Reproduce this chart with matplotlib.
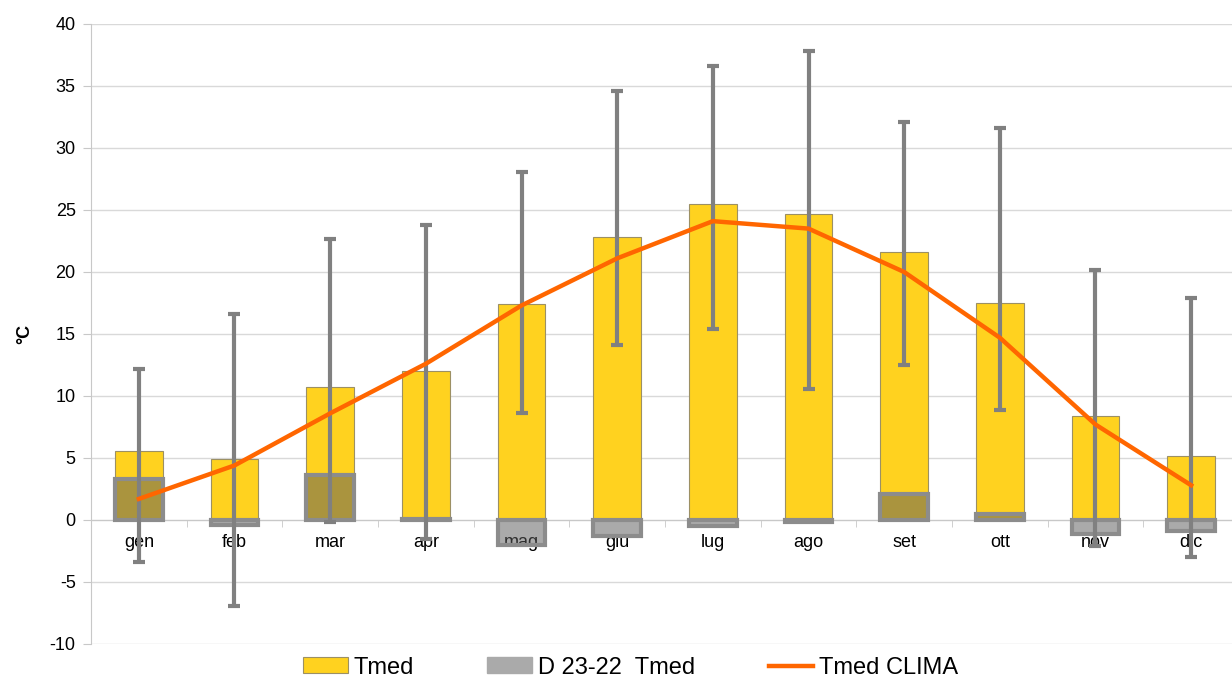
import matplotlib.pyplot as plt
import numpy as np
from matplotlib.patches import Patch
from matplotlib.lines import Line2D

# Monthly data
mesi = ['gen', 'feb', 'mar', 'apr', 'mag', 'giu', 'lug', 'ago', 'set', 'ott', 'nov', 'dic']
tmed = [5.6, 4.9, 10.7, 12.0, 17.4, 22.8, 25.5, 24.7, 21.6, 17.5, 8.4, 5.2]
delta_23_22 = [3.3, -0.4, 3.6, 0.1, -2.0, -1.3, -0.5, -0.2, 2.1, 0.5, -1.1, -0.9]
tmin = [-3.4, -6.9, -0.2, -1.5, 8.6, 14.1, 15.4, 10.6, 12.5, 8.9, -2.1, -3.0]
tmax = [12.2, 16.6, 22.7, 23.8, 28.1, 34.6, 36.6, 37.8, 32.1, 31.6, 20.2, 17.9]
tmed_clima = [1.7, 4.4, 8.6, 12.6, 17.3, 21.1, 24.1, 23.5, 20.0, 14.7, 7.7, 2.8]

plt.rcParams['font.family'] = ['Liberation Sans', 'DejaVu Sans']
plt.rcParams['axes.unicode_minus'] = False

fig = plt.figure(figsize=(12.32, 6.84), dpi=100)
ax = fig.add_axes([91 / 1232, 40 / 684, 1148 / 1232, 620 / 684])

x = np.arange(len(mesi))
tmed_arr = np.array(tmed)

ax.bar(x, tmed, width=0.5, color='#ffd21f', edgecolor='#9c9064', linewidth=0.8, zorder=2)
ax.bar(x, delta_23_22, width=0.5, color=(0.36, 0.36, 0.36, 0.52),
       edgecolor='#8c8c8c', linewidth=3, zorder=3)

# min / max range drawn as error bars around Tmed
yerr = [tmed_arr - np.array(tmin), np.array(tmax) - tmed_arr]
ax.errorbar(x, tmed, yerr=yerr, fmt='none', ecolor='#808080', elinewidth=3,
            capsize=4, capthick=3, zorder=4)

ax.plot(x, tmed_clima, color='#ff6600', linewidth=3.2, zorder=5)

ax.set_xlim(-0.5, 11.5)
ax.set_ylim(-10, 40)
ax.set_yticks(range(-10, 41, 5))
ax.grid(axis='y', color='#d9d9d9', linewidth=1)
ax.set_axisbelow(True)

ax.set_xticks(x)
ax.set_xticklabels(mesi)
ax.set_xticks(np.arange(-0.5, 12, 1), minor=True)
ax.tick_params(axis='x', which='major', length=0, pad=10, labelsize=13)
ax.tick_params(axis='x', which='minor', length=5, color='#c8c8c8')
ax.tick_params(axis='y', length=6, color='#c8c8c8', labelsize=13, pad=5)

ax.spines['top'].set_visible(False)
ax.spines['right'].set_visible(False)
ax.spines['bottom'].set_position(('data', 0))
ax.spines['bottom'].set_color('#c8c8c8')
ax.spines['left'].set_color('#c8c8c8')

ax.set_ylabel('°C', fontsize=13, fontweight='bold', labelpad=12)

handles = [
    Patch(facecolor='#ffd21f', edgecolor='#9c9064', linewidth=0.8),
    Patch(facecolor='#aaaaaa', edgecolor='#aaaaaa'),
    Line2D([0], [0], color='#ff6600', linewidth=3.2),
]
labels = ['Tmed', 'D 23-22  Tmed', 'Tmed CLIMA']
fig.legend(handles, labels, loc='center', bbox_to_anchor=(0.512, 0.024), ncol=3,
           frameon=False, handlelength=1.9, handleheight=0.64, borderpad=0.1,
           handletextpad=0.25, columnspacing=3.1, prop={'size': 17})

fig.savefig('out.png', dpi=100)
